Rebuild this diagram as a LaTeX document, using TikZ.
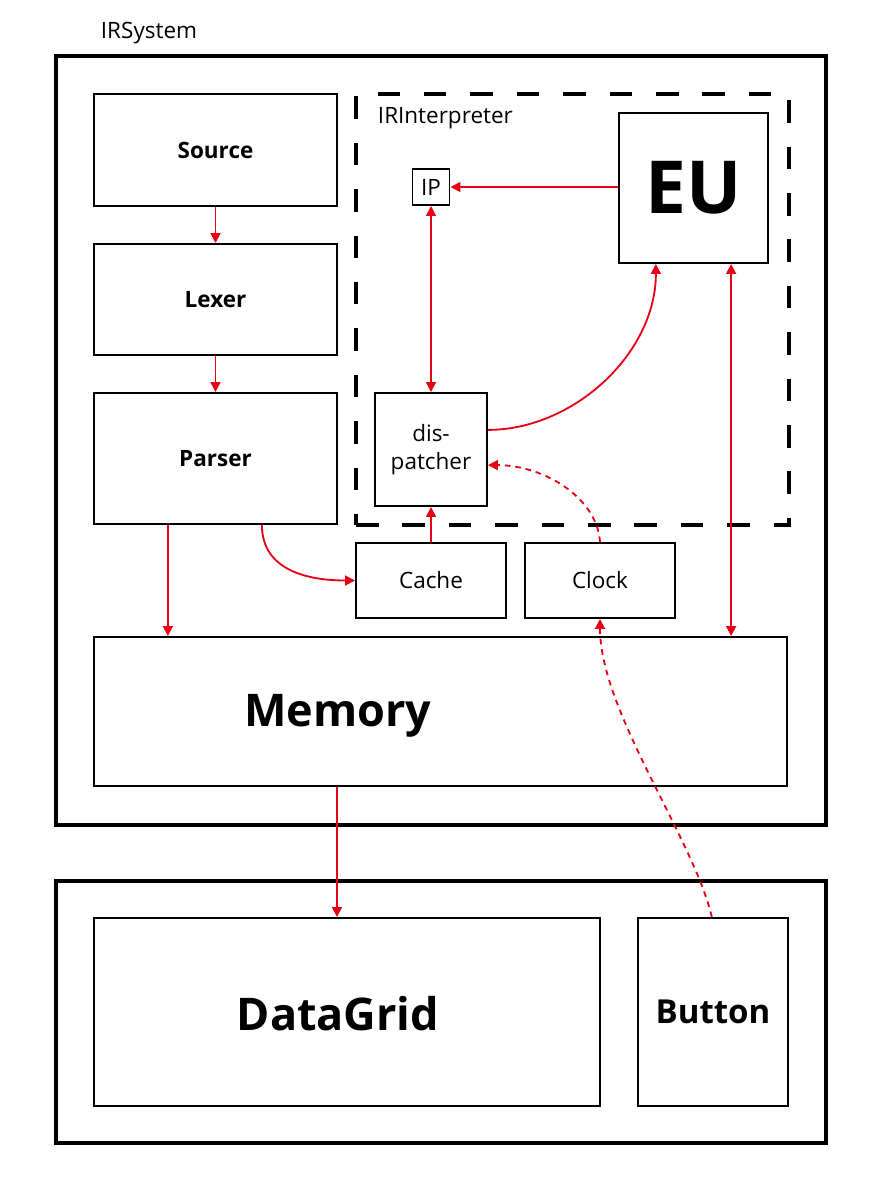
\documentclass[tikz,border=0pt]{standalone}
\usepackage{fontspec}
\setmainfont{Open Sans}
\usepackage{tikz}
\usetikzlibrary{arrows.meta,positioning}
\definecolor{irred}{RGB}{232,0,22}

\begin{document}
\begin{tikzpicture}[x=0.025cm,y=-0.025cm,
        box/.style 2 args={draw,line width=1.4pt,inner sep=0pt,align=center,
            minimum width=#1*0.025cm,minimum height=#2*0.025cm},
        outerbox/.style 2 args={box={#1}{#2},line width=2.6pt},
        lbl/.style={font=\fontsize{16}{20}\selectfont},
        bld/.style={font=\fontsize{16}{20}\selectfont\bfseries},
        big/.style={font=\fontsize{32}{38}\selectfont\bfseries},
        link/.style={draw=irred,line width=1.3pt,-{Triangle[length=7pt,width=7pt]}},
        both/.style={link,{Triangle[length=7pt,width=7pt]}-{Triangle[length=7pt,width=7pt]}},
        soft/.style={link,dash pattern=on 4pt off 3.5pt}]
    \useasboundingbox (0,0) rectangle (881,1200);
    % frames
    \node[outerbox={770}{769}] (sys) at (441,440.5) {};
    \node[lbl,anchor=west] (syslbl) at (96,33) {IRSystem};
    \node[outerbox={770}{262}] (ui) at (441,1012) {};
    \node[box={433}{431},line width=2.8pt,dash pattern=on 16pt off 17pt] (interp) at (572.5,309.5) {};
    \node[lbl,anchor=west] (interplbl) at (373,118) {IRInterpreter};
    % front end
    \node[box={243}{112},bld] (src) at (215.5,150) {Source};
    \node[box={243}{111},bld] (lex) at (215.5,299.5) {Lexer};
    \node[box={243}{131},bld] (par) at (215.5,458.5) {Parser};
    % interpreter
    \node[box={149}{150},font=\fontsize{52}{58}\selectfont\bfseries] (eu) at (693.5,188) {EU};
    \node[box={37}{36},lbl] (ip) at (431,187) {IP};
    \node[box={112}{113},lbl] (disp) at (431,449.5) {dis-\\patcher};
    \node[box={150}{75},lbl] (cache) at (431,580.5) {Cache};
    \node[box={150}{75},lbl] (clock) at (600,580.5) {Clock};
    \node[box={693}{149}] (mem) at (440.5,711.5) {};
    \node[big] (memlbl) at (338,716) {Memory};
    % ui
    \node[box={506}{188}] (grid) at (347,1012) {};
    \node[big] (gridlbl) at (338,1014) {DataGrid};
    \node[box={150}{188},font=\fontsize{23.5}{28}\selectfont\bfseries] (btn) at (713,1012) {Button};

    \draw[link] (src) -- (lex);
    \draw[link] (lex) -- (par);
    \draw[link] ([xshift=-1.19cm]par.south) -- ([xshift=-1.19cm]par.south |- mem.north);
    \draw[link] ([xshift=1.16cm]par.south) .. controls +(0,45) and +(-48,0) .. (cache.west);
    \draw[link] (cache.north) -- (disp.south);
    \draw[both] (disp.north) -- (ip.south);
    \draw[link] (eu.west |- ip.east) -- (ip.east);
    \draw[link] ([yshift=0.49cm]disp.east) .. controls +(85,0) and +(0,90) .. ([xshift=-0.94cm]eu.south);
    \draw[both] ([xshift=0.94cm]eu.south) -- ([xshift=0.94cm]eu.south |- mem.north);
    \draw[link] ([xshift=-0.25cm]grid.north |- mem.south) -- ([xshift=-0.25cm]grid.north);
    \draw[soft] ([xshift=-0.03cm]btn.north) .. controls +(-18,-78) and +(0,92) .. (clock.south);
    \draw[soft] (clock.north) .. controls +(-3,-45) and +(55,0) .. ([yshift=-0.39cm]disp.east);
\end{tikzpicture}
\end{document}
